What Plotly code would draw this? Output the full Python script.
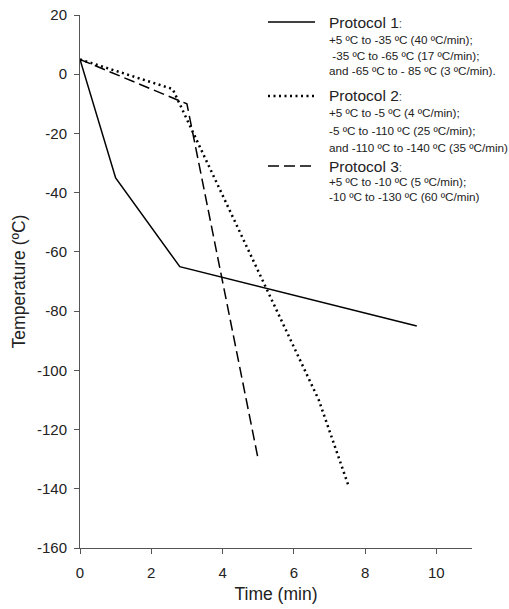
import plotly.graph_objects as go

# Data
p1_time = [0, 1.0, 2.8, 9.45]
p1_temp = [5, -35, -65, -85]
p2_time = [0, 2.6, 6.7, 7.52]
p2_temp = [5, -5, -110, -138.5]
p3_time = [0, 3.0, 5.0]
p3_temp = [5, -10, -130]

x_ticks = [0, 2, 4, 6, 8, 10]
x_labels = ["0", "2", "4", "6", "8", "10"]
y_ticks = [20, 0, -20, -40, -60, -80, -100, -120, -140, -160]
y_labels = ["20", "0", "-20", "-40", "-60", "-80", "-100", "-120", "-140", "-160"]

legend_titles = ["Protocol 1", "Protocol 2", "Protocol 3"]
legend_details = [
    ["+5 ºC to -35 ºC (40 ºC/min);", " -35 ºC to -65 ºC (17 ºC/min);", "and -65 ºC to - 85 ºC (3 ºC/min)."],
    ["+5 ºC to -5 ºC (4 ºC/min);", "-5 ºC to -110 ºC (25 ºC/min);", "and -110 ºC to -140 ºC (35 ºC/min)"],
    ["+5 ºC to -10 ºC (5 ºC/min);", "-10 ºC to -130 ºC (60 ºC/min)"],
]

FONT = "Liberation Sans, Arial, sans-serif"
W, H = 509, 609
L, R, T, B = 80, 37, 15, 61
PW = W - L - R
PH = H - T - B

def px(xp):
    return (xp - L) / PW

def py(yp):
    return (H - B - yp) / PH

fig = go.Figure()
styles = [
    dict(color="black", width=1.5, dash="solid"),
    dict(color="black", width=2.5, dash="2px,3.5px"),
    dict(color="black", width=1.5, dash="11px,5px"),
]
for t, v, st, name in zip([p1_time, p2_time, p3_time], [p1_temp, p2_temp, p3_temp], styles, legend_titles):
    fig.add_trace(go.Scatter(x=t, y=v, mode="lines", line=st, name=name, showlegend=False))

# Custom legend
title_y = [22, 96, 166]
detail_y = [[39, 55, 71], [113, 130, 147], [182, 197]]
shapes = []
annotations = []
for i in range(3):
    shapes.append(dict(type="line", xref="paper", yref="paper",
                       x0=px(268), x1=px(315), y0=py(title_y[i]), y1=py(title_y[i]),
                       line=styles[i]))
    annotations.append(dict(xref="paper", yref="paper", x=px(327), y=py(title_y[i]),
                            text=legend_titles[i] + "<span style='font-size:12px;color:#555'>:</span>",
                            showarrow=False, xanchor="left", yanchor="middle",
                            font=dict(family=FONT, size=15.5, color="#222")))
    for txt, yy in zip(legend_details[i], detail_y[i]):
        annotations.append(dict(xref="paper", yref="paper", x=px(327), y=py(yy),
                                text=txt.replace(" ", "&nbsp;", 1) if txt.startswith(" ") else txt,
                                showarrow=False, xanchor="left", yanchor="middle",
                                font=dict(family=FONT, size=11.7, color="#222")))

fig.update_layout(
    width=W, height=H,
    margin=dict(l=L, r=R, t=T, b=B),
    paper_bgcolor="white", plot_bgcolor="white",
    font=dict(family=FONT, color="#222"),
    shapes=shapes, annotations=annotations,
    showlegend=False,
)
fig.update_xaxes(
    range=[0, 11], tickvals=x_ticks, ticktext=x_labels, ticks="outside", ticklen=5, tickwidth=1,
    tickcolor="#555", showline=True, linecolor="#555", linewidth=1, ticklabelstandoff=6,
    showgrid=False, zeroline=False, tickfont=dict(size=15, family=FONT, color="#222"),
    automargin=False,
    title=dict(text="Time (min)", font=dict(size=17.5, family=FONT, color="#222"), standoff=7),
)
fig.update_yaxes(
    range=[-160, 20], tickvals=y_ticks, ticktext=y_labels, ticks="outside", ticklen=5, tickwidth=1,
    tickcolor="#555", showline=True, linecolor="#555", linewidth=1, ticklabelstandoff=4,
    showgrid=False, zeroline=False, tickfont=dict(size=15, family=FONT, color="#222"),
    automargin=False,
    title=dict(text="Temperature (ºC)", font=dict(size=17.5, family=FONT, color="#222"), standoff=6),
)

fig.write_html("out.html")
